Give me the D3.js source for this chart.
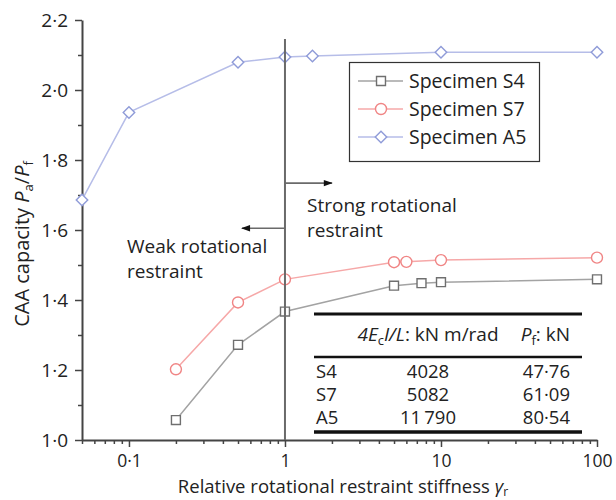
<!DOCTYPE html>
<html>
<head>
<meta charset="utf-8">
<script src="https://cdn.jsdelivr.net/npm/d3@7"></script>
<style>
  html, body { margin: 0; padding: 0; background: #fff; }
  svg text { font-family: "Open Sans", "Noto Sans", sans-serif; fill: #222; }
</style>
</head>
<body>
<svg id="chart" width="616" height="500"></svg>
<script>
// Relative rotational restraint stiffness (x) and CAA capacity ratio (y)
const s4X = [0.2, 0.5, 1, 5, 7.5, 10, 100];
const s4Y = [1.057, 1.272, 1.367, 1.441, 1.448, 1.451, 1.459];
const s7X = [0.2, 0.5, 1, 5, 6, 10, 100];
const s7Y = [1.202, 1.393, 1.459, 1.508, 1.509, 1.514, 1.521];
const a5X = [0.05, 0.1, 0.5, 1, 1.5, 10, 100];
const a5Y = [1.686, 1.936, 2.079, 2.094, 2.097, 2.108, 2.108];

const legendNames = ["Specimen S4", "Specimen S7", "Specimen A5"];

const yTicks = [1.0, 1.2, 1.4, 1.6, 1.8, 2.0, 2.2];
const yMinorTicks = [1.1, 1.3, 1.5, 1.7, 1.9, 2.1];
const xTicks = [0.1, 1, 10, 100];
const xTickLabels = ["0·1", "1", "10", "100"];

// Specimen property table
const tableNames = ["S4", "S7", "A5"];
const tableStiffness = ["4028", "5082", "11\u2009790"];
const tableFlexural = ["47·76", "61·09", "80·54"];

const svg = d3.select("#chart");
const x = d3.scaleLog().domain([0.05, 100]).range([82, 597]);
const y = d3.scaleLinear().domain([1.0, 2.2]).range([440, 20]);

const axisColor = "#444";
const fontFam = "Open Sans, Noto Sans, sans-serif";

// minor x ticks: 2..9 within each decade
const xMinor = [];
[0.01, 0.1, 1, 10].forEach(d => {
  for (let k = 2; k <= 9; k++) {
    const v = d * k;
    if (v >= 0.05 && v <= 100 && !xTicks.includes(v)) xMinor.push(v);
  }
});

// X axis
const xAxisG = svg.append("g").attr("transform", `translate(0,${y(1.0)})`);
xAxisG.call(d3.axisBottom(x).tickValues(xTicks).tickFormat((d, i) => xTickLabels[i]).tickSize(7).tickSizeOuter(0).tickPadding(8));
xAxisG.append("g").call(d3.axisBottom(x).tickValues(xMinor).tickFormat("").tickSize(4).tickSizeOuter(0))
  .select(".domain").remove();
xAxisG.selectAll("line").attr("stroke", axisColor).attr("stroke-width", 1.5);
xAxisG.select(".domain").attr("stroke", axisColor).attr("stroke-width", 2);
xAxisG.selectAll("text").attr("font-size", 17.5).attr("fill", "#222").attr("font-family", fontFam);

// Y axis
const yAxisG = svg.append("g").attr("transform", `translate(${x(0.05)},0)`);
yAxisG.call(d3.axisLeft(y).tickValues(yTicks).tickFormat(d => d3.format(".1f")(d).replace(".", "·")).tickSize(7).tickSizeOuter(0).tickPadding(7));
yAxisG.append("g").call(d3.axisLeft(y).tickValues(yMinorTicks).tickFormat("").tickSize(4).tickSizeOuter(0))
  .select(".domain").remove();
yAxisG.selectAll("line").attr("stroke", axisColor).attr("stroke-width", 1.5);
yAxisG.select(".domain").attr("stroke", axisColor).attr("stroke-width", 2);
yAxisG.selectAll("text").attr("font-size", 19).attr("fill", "#222").attr("font-family", fontFam);

// Axis titles
svg.append("text")
  .attr("transform", `translate(29,${(y(1.0) + y(2.2)) / 2 + 14}) rotate(-90)`)
  .attr("text-anchor", "middle").attr("font-size", 20)
  .call(t => {
    t.append("tspan").text("CAA capacity ");
    t.append("tspan").attr("font-style", "italic").text("P");
    t.append("tspan").attr("font-size", 13).attr("dy", 4).text("a");
    t.append("tspan").attr("dy", -4).text("/");
    t.append("tspan").attr("font-style", "italic").text("P");
    t.append("tspan").attr("font-size", 13).attr("dy", 4).text("f");
  });

svg.append("text")
  .attr("x", 343).attr("y", 493)
  .attr("text-anchor", "middle").attr("font-size", 18.5)
  .call(t => {
    t.append("tspan").text("Relative rotational restraint stiffness ");
    t.append("tspan").attr("font-style", "italic").text("γ");
    t.append("tspan").attr("font-size", 12).attr("dy", 3).text("r");
  });

// Series (diamonds are squares turned 45°)
const series = [
  { name: legendNames[0], xs: s4X, ys: s4Y, line: "#a3a3a3", mark: "#6f6f6f", symbol: d3.symbolSquare, size: 80, rot: 0 },
  { name: legendNames[1], xs: s7X, ys: s7Y, line: "#f6a8a8", mark: "#f08585", symbol: d3.symbolCircle, size: 95, rot: 0 },
  { name: legendNames[2], xs: a5X, ys: a5Y, line: "#b6bde8", mark: "#8f9bd8", symbol: d3.symbolSquare, size: 66, rot: 45 }
];

const lineGen = d3.line().x(d => x(d[0])).y(d => y(d[1]));

series.forEach(s => {
  const pts = s.xs.map((v, i) => [v, s.ys[i]]);
  svg.append("path").datum(pts)
    .attr("d", lineGen).attr("fill", "none")
    .attr("stroke", s.line).attr("stroke-width", 1.5);
  svg.append("g").selectAll("path").data(pts).join("path")
    .attr("transform", d => `translate(${x(d[0])},${y(d[1])}) rotate(${s.rot})`)
    .attr("d", d3.symbol().type(s.symbol).size(s.size))
    .attr("fill", "#fff").attr("stroke", s.mark).attr("stroke-width", 1.4);
});

// Boundary at unit relative stiffness, with direction arrows
const defs = svg.append("defs");
defs.append("marker").attr("id", "arrowhead")
  .attr("viewBox", "0 0 10 10").attr("refX", 9).attr("refY", 5)
  .attr("markerWidth", 14).attr("markerHeight", 9).attr("markerUnits", "userSpaceOnUse")
  .attr("orient", "auto")
  .append("path").attr("d", "M0,1.5 L10,5 L0,8.5 Z").attr("fill", "#111");

svg.append("line")
  .attr("x1", x(1)).attr("x2", x(1)).attr("y1", y(2.146)).attr("y2", y(1.0))
  .attr("stroke", "#6a6a6a").attr("stroke-width", 2);

svg.append("line")
  .attr("x1", x(1)).attr("x2", x(2.0)).attr("y1", y(1.734)).attr("y2", y(1.734))
  .attr("stroke", "#6a6a6a").attr("stroke-width", 1.6).attr("marker-end", "url(#arrowhead)");
svg.append("line")
  .attr("x1", x(1)).attr("x2", x(0.53)).attr("y1", y(1.605)).attr("y2", y(1.605))
  .attr("stroke", "#6a6a6a").attr("stroke-width", 1.6).attr("marker-end", "url(#arrowhead)");

const notes = [
  { x: 307, y: 212, lines: ["Strong rotational", "restraint"] },
  { x: 127, y: 253, lines: ["Weak rotational", "restraint"] }
];
notes.forEach(n => {
  const t = svg.append("text").attr("x", n.x).attr("y", n.y).attr("font-size", 19);
  n.lines.forEach((l, i) => t.append("tspan").attr("x", n.x).attr("dy", i ? 25 : 0).text(l));
});

// Legend
const legend = svg.append("g");
legend.append("rect").attr("x", 349.5).attr("y", 62.5).attr("width", 190).attr("height", 99)
  .attr("fill", "#fff").attr("stroke", "#333").attr("stroke-width", 1.2);
series.forEach((s, i) => {
  const cy = 81 + i * 28;
  legend.append("line").attr("x1", 358).attr("x2", 403).attr("y1", cy).attr("y2", cy)
    .attr("stroke", s.line).attr("stroke-width", 1.5);
  legend.append("path").attr("transform", `translate(381,${cy}) rotate(${s.rot})`)
    .attr("d", d3.symbol().type(s.symbol).size(s.size))
    .attr("fill", "#fff").attr("stroke", s.mark).attr("stroke-width", 1.4);
  legend.append("text").attr("x", 409).attr("y", cy + 7).attr("font-size", 19.5).text(s.name);
});

// Table of specimen properties
const tbl = svg.append("g");
const tx0 = 314, tx1 = 582, colMid = 428, colRight = 570;
tbl.append("line").attr("x1", tx0).attr("x2", tx1).attr("y1", 314).attr("y2", 314)
  .attr("stroke", "#111").attr("stroke-width", 3);
tbl.append("line").attr("x1", tx0).attr("x2", tx1).attr("y1", 357).attr("y2", 357)
  .attr("stroke", "#111").attr("stroke-width", 2.6);
tbl.append("line").attr("x1", tx0).attr("x2", tx1).attr("y1", 432).attr("y2", 432)
  .attr("stroke", "#111").attr("stroke-width", 3.4);

tbl.append("text").attr("x", colMid).attr("y", 341).attr("text-anchor", "middle").attr("font-size", 19)
  .call(t => {
    t.append("tspan").attr("font-style", "italic").text("4E");
    t.append("tspan").attr("font-size", 13).attr("dy", 4).text("c");
    t.append("tspan").attr("dy", -4).attr("font-style", "italic").text("I/L");
    t.append("tspan").text(": kN m/rad");
  });
tbl.append("text").attr("x", colRight).attr("y", 341).attr("text-anchor", "end").attr("font-size", 19)
  .call(t => {
    t.append("tspan").attr("font-style", "italic").text("P");
    t.append("tspan").attr("font-size", 13).attr("dy", 4).text("f");
    t.append("tspan").attr("dy", -4).text(": kN");
  });

tableNames.forEach((nm, i) => {
  const by = 378 + i * 23;
  tbl.append("text").attr("x", 316).attr("y", by).attr("font-size", 18.5).text(nm);
  tbl.append("text").attr("x", colMid).attr("y", by).attr("text-anchor", "middle").attr("font-size", 18.5).text(tableStiffness[i]);
  tbl.append("text").attr("x", colRight).attr("y", by).attr("text-anchor", "end").attr("font-size", 18.5).text(tableFlexural[i]);
});
</script>
</body>
</html>
